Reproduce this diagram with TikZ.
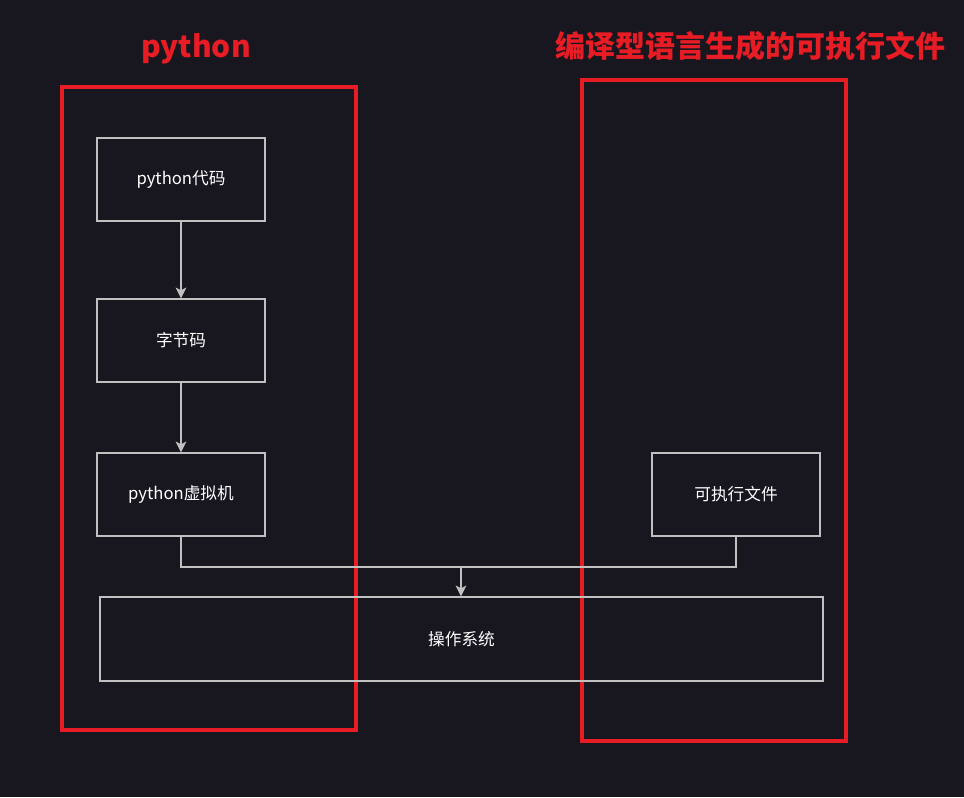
\documentclass[tikz,border=0pt]{standalone}
\usepackage{fontspec}
\setmainfont{Noto Sans CJK SC}
\usepackage{tikz}
\usetikzlibrary{arrows.meta,positioning}
\definecolor{bgdark}{RGB}{24,22,31}
\definecolor{framered}{RGB}{232,28,36}
\definecolor{boxgray}{RGB}{192,192,192}
\tikzset{
  box/.style={draw=boxgray,line width=1.1pt,text=white,inner sep=0pt,
    minimum width=126pt,minimum height=62.25pt,font=\fontsize{12.5pt}{14pt}\selectfont},
  frame/.style={draw=framered,line width=2.4pt,inner sep=0pt},
  heading/.style={text=framered,font=\fontsize{22.5pt}{26pt}\selectfont\bfseries},
  link/.style={draw=boxgray,line width=1.1pt}
}
\tikzstyle{arrow} = [link,-{Stealth[length=8pt,width=8pt,inset=2pt]}]

\begin{document}
\begin{tikzpicture}[x=0.75pt,y=-0.75pt]
  \fill[bgdark] (0,0) rectangle (964,797);
  \useasboundingbox (0,0) rectangle (964,797);
  % frames
  \node[frame,minimum width=220.5pt,minimum height=482.25pt] (pyframe) at (209,408.5) {};
  \node[frame,minimum width=198pt,minimum height=495.75pt] (exeframe) at (714,410.5) {};
  \node[heading] (pytitle) at (196,49) {python};
  \node[heading] (exetitle) at (750,46) {编译型语言生成的可执行文件};
  % boxes
  \node[box] (code) at (181,179.5) {python代码};
  \node[box] (bytecode) at (181,340.5) {字节码};
  \node[box] (vm) at (181,494.5) {python虚拟机};
  \node[box] (exe) at (736,494.5) {可执行文件};
  \node[box,minimum width=542.25pt,minimum height=63pt] (os) at (461.5,639) {操作系统};
  % connectors
  \coordinate (junc) at (461,567);
  \draw[arrow] (code) -- (bytecode);
  \draw[arrow] (bytecode) -- (vm);
  \draw[link] (vm.south) |- (junc);
  \draw[link] (exe.south) |- (junc);
  \draw[arrow] (junc) -- (junc |- os.north);
\end{tikzpicture}
\end{document}
